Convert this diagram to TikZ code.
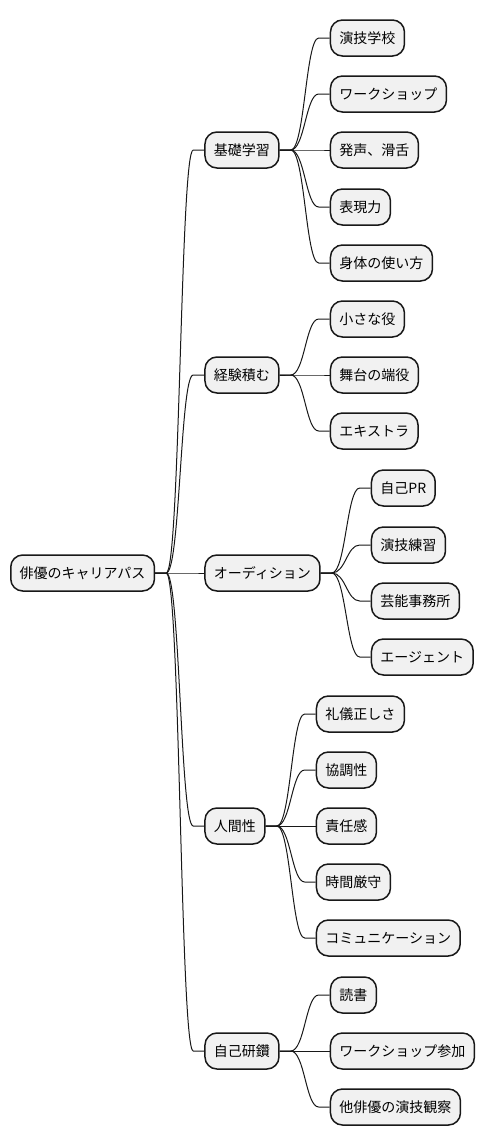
\documentclass[tikz,border=0pt]{standalone}
\usepackage{fontspec}
\setmainfont{Noto Sans CJK JP}
\usetikzlibrary{positioning}
\definecolor{boxfill}{HTML}{F1F1F1}
\definecolor{boxline}{HTML}{181818}
\tikzset{
  idea/.style={draw=boxline, fill=boxfill, line width=1.5pt, rounded corners=12pt,
    minimum height=36pt, inner xsep=9pt, font=\fontsize{14pt}{17pt}\selectfont},
  link/.style={draw=boxline, line width=1pt,
    to path={(\tikztostart.east) -- ++(11pt,0) .. controls +(14pt,0) and ([xshift=-24pt]\tikztotarget.west) .. ([xshift=-11pt]\tikztotarget.west) -- (\tikztotarget.west)}}
}
\begin{document}
\begin{tikzpicture}
      \useasboundingbox (0,0) rectangle (488pt,-1146pt);
      \node[idea, anchor=west] (p0) at (10pt,-573pt) {俳優のキャリアパス};
      \node[idea, right=49pt of p0, yshift=423pt](p1){基礎学習};
      \node[idea, right=49pt of p0, yshift=198pt](p2){経験積む};
      \node[idea, right=49pt of p0](p3){オーディション};
      \node[idea, right=49pt of p0, yshift=-253pt](p4){人間性};
      \node[idea, right=49pt of p0, yshift=-478pt](p5){自己研鑽};
      \node[idea, right=50pt of p1, yshift=112pt](p6){演技学校};
      \node[idea, right=50pt of p1, yshift=56pt](p7){ワークショップ};
      \node[idea, right=50pt of p1](p8){発声、滑舌};
      \node[idea, right=50pt of p1, yshift=-57pt](p9){表現力};
      \node[idea, right=50pt of p1, yshift=-113pt](p10){身体の使い方};
      \node[idea, right=50pt of p2, yshift=56pt](p11){小さな役};
      \node[idea, right=50pt of p2](p12){舞台の端役};
      \node[idea, right=50pt of p2, yshift=-56pt](p13){エキストラ};
      \node[idea, right=50pt of p3, yshift=85pt](p14){自己PR};
      \node[idea, right=50pt of p3, yshift=28pt](p15){演技練習};
      \node[idea, right=50pt of p3, yshift=-28pt](p16){芸能事務所};
      \node[idea, right=50pt of p3, yshift=-84pt](p17){エージェント};
      \node[idea, right=50pt of p4, yshift=112pt](p18){礼儀正しさ};
      \node[idea, right=50pt of p4, yshift=56pt](p19){協調性};
      \node[idea, right=50pt of p4](p20){責任感};
      \node[idea, right=50pt of p4, yshift=-56pt](p21){時間厳守};
      \node[idea, right=50pt of p4, yshift=-112pt](p22){コミュニケーション};
      \node[idea, right=50pt of p5, yshift=56pt](p23){読書};
      \node[idea, right=50pt of p5](p24){ワークショップ参加};
      \node[idea, right=50pt of p5, yshift=-56pt](p25){他俳優の演技観察};
      \path (p0) edge[link] (p1);
      \path (p0) edge[link] (p2);
      \path (p0) edge[link] (p3);
      \path (p0) edge[link] (p4);
      \path (p0) edge[link] (p5);
      \path (p1) edge[link] (p6);
      \path (p1) edge[link] (p7);
      \path (p1) edge[link] (p8);
      \path (p1) edge[link] (p9);
      \path (p1) edge[link] (p10);
      \path (p2) edge[link] (p11);
      \path (p2) edge[link] (p12);
      \path (p2) edge[link] (p13);
      \path (p3) edge[link] (p14);
      \path (p3) edge[link] (p15);
      \path (p3) edge[link] (p16);
      \path (p3) edge[link] (p17);
      \path (p4) edge[link] (p18);
      \path (p4) edge[link] (p19);
      \path (p4) edge[link] (p20);
      \path (p4) edge[link] (p21);
      \path (p4) edge[link] (p22);
      \path (p5) edge[link] (p23);
      \path (p5) edge[link] (p24);
      \path (p5) edge[link] (p25);
    \end{tikzpicture}
\end{document}
